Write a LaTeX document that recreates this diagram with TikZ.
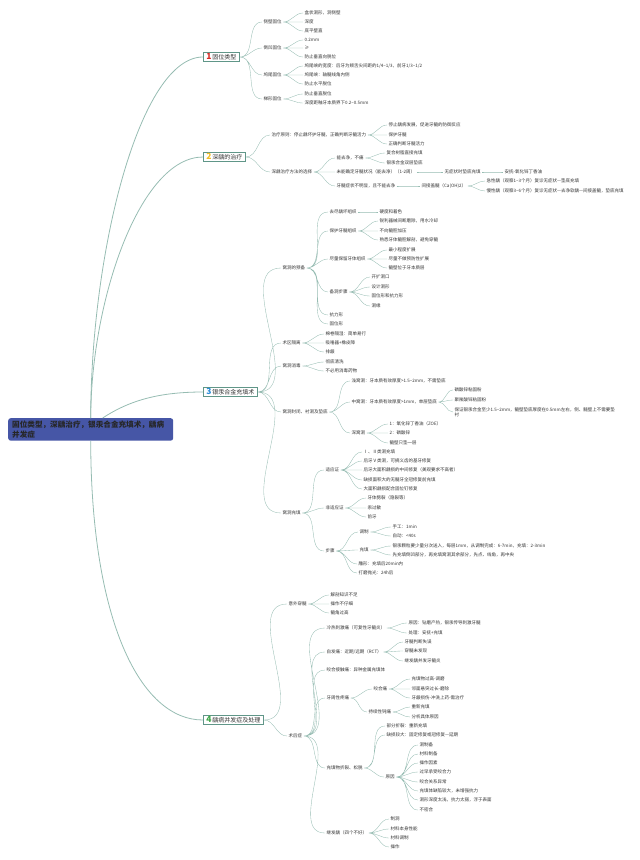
\documentclass[tikz,border=0pt]{standalone}
\usepackage{fontspec}
\setmainfont{Noto Sans CJK SC}
\definecolor{txtgray}{RGB}{51,51,51}
\definecolor{linkc}{RGB}{150,188,178}
\definecolor{boxline}{RGB}{96,150,136}
\definecolor{rootblue}{RGB}{70,86,166}
\definecolor{numred}{RGB}{214,45,40}
\definecolor{numyellow}{RGB}{242,190,40}
\definecolor{numblue}{RGB}{40,140,215}
\definecolor{numgreen}{RGB}{60,165,70}
\newcommand{\brnum}[2]{\textcolor{#1}{\fontsize{8.5}{8.5}\selectfont\bfseries #2}\,}
\begin{document}
\begin{tikzpicture}[x=1pt,y=-1pt,
    leaf/.style={anchor=west,inner sep=.6pt,outer sep=1pt,text=txtgray,font=\fontsize{4.5}{5.4}\selectfont},
    branch/.style={anchor=west,draw=boxline,fill=white,line width=.6pt,inner xsep=3pt,inner ysep=1.2pt,text=txtgray,font=\fontsize{6}{7}\selectfont},
    link/.style={draw=linkc,line width=.35pt,out=0,in=180},
    mainlink/.style={draw=linkc,line width=.8pt}]
    \useasboundingbox (0,0) rectangle (640,860);

    \node[anchor=north west,fill=rootblue,rounded corners=2.5pt,inner xsep=4pt,inner ysep=2.5pt,text width=157pt,align=left,
          font=\fontsize{7.6}{10}\selectfont\bfseries,text=black!85] (root) at (8,418) {固位类型，深龋治疗，银汞合金充填术，龋病\\并发症};

    \node[branch] (b1) at (203,57) {\brnum{numred}{1}固位类型};
    \node[leaf] (b1a) at (262,22) {侧壁固位};
    \node[leaf] (b1b) at (262,48) {倒凹固位};
    \node[leaf] (b1c) at (262,75) {鸠尾固位};
    \node[leaf] (b1d) at (262,99) {梯形固位};
    \node[leaf] (b1a1) at (303,13) {盒状洞形，洞侧壁};
    \node[leaf] (b1a2) at (303,22) {深度};
    \node[leaf] (b1a3) at (303,31) {底平壁直};
    \node[leaf] (b1b1) at (303,40) {0.2mm};
    \node[leaf] (b1b2) at (303,48) {≥};
    \node[leaf] (b1b3) at (303,57) {防止垂直向脱位};
    \node[leaf] (b1c1) at (303,66) {鸠尾峡的宽度：后牙为颊舌尖间距的1/4\textasciitilde 1/3，前牙1/3\textasciitilde 1/2};
    \node[leaf] (b1c2) at (303,75) {鸠尾峡：轴髓线角内侧};
    \node[leaf] (b1c3) at (303,84) {防止水平脱位};
    \node[leaf] (b1d1) at (303,94) {防止垂直脱位};
    \node[leaf] (b1d2) at (303,103) {深度距釉牙本质界下0.2\textasciitilde 0.5mm};

    \node[branch] (b2) at (203,157) {\brnum{numyellow}{2}深龋的治疗};
    \node[leaf] (b2a) at (270,135) {治疗原则：停止龋坏护牙髓，正确判断牙髓活力};
    \node[leaf] (b2a1) at (387,125) {停止龋病发展，促进牙髓的防御反应};
    \node[leaf] (b2a2) at (387,135) {保护牙髓};
    \node[leaf] (b2a3) at (387,144) {正确判断牙髓活力};
    \node[leaf] (b2b) at (270,172) {深龋治疗方法的选择};
    \node[leaf] (b2b1) at (335,158) {能去净，不痛};
    \node[leaf] (b2b1a) at (385,153) {复合树脂直接充填};
    \node[leaf] (b2b1b) at (385,163) {银汞合金双层垫底};
    \node[leaf] (b2b2) at (335,172) {未能确定牙髓状况（能去净）（1-2周）};
    \node[leaf] (b2b2a) at (443,172) {无症状时垫底充填};
    \node[leaf] (b2b2b) at (503,172) {安抚-氧化锌丁香油};
    \node[leaf] (b2b3) at (335,186) {牙髓症状不明显，且不能去净};
    \node[leaf] (b2b3a) at (420,186) {间接盖髓（Ca(OH)2）};
    \node[leaf] (b2b3a1) at (485,181) {急性龋（观察1\textasciitilde 3个月）复诊无症状—垫底充填};
    \node[leaf] (b2b3a2) at (485,191) {慢性龋（观察3\textasciitilde 6个月）复诊无症状—去净软龋—间接盖髓，垫底充填};

    \node[branch] (b3) at (203,392) {\brnum{numblue}{3}银汞合金充填术};
    \node[leaf] (b3a) at (281,268) {窝洞的预备};
    \node[leaf] (b3a1) at (328,212) {去尽龋坏组织};
    \node[leaf] (b3a1a) at (378,212) {硬度和着色};
    \node[leaf] (b3a2) at (328,231) {保护牙髓组织};
    \node[leaf] (b3a2a) at (378,221) {锐利器械间断磨除，用水冷却};
    \node[leaf] (b3a2b) at (378,231) {不向髓腔加压};
    \node[leaf] (b3a2c) at (378,240) {熟悉牙体髓腔解剖，避免穿髓};
    \node[leaf] (b3a3) at (328,259) {尽量保留牙体组织};
    \node[leaf] (b3a3a) at (387,250) {最小程度扩展};
    \node[leaf] (b3a3b) at (387,259) {尽量不做预防性扩展};
    \node[leaf] (b3a3c) at (387,268) {髓壁位于牙本质层};
    \node[leaf] (b3a4) at (328,292) {备洞步骤};
    \node[leaf] (b3a4a) at (370,277) {开扩洞口};
    \node[leaf] (b3a4b) at (370,287) {设计洞形};
    \node[leaf] (b3a4c) at (370,296) {固位形和抗力形};
    \node[leaf] (b3a4d) at (370,306) {洞缘};
    \node[leaf] (b3a5) at (328,315) {抗力形};
    \node[leaf] (b3a6) at (328,324) {固位形};
    \node[leaf] (b3b) at (281,343) {术区隔离};
    \node[leaf] (b3b1) at (324,334) {棉卷隔湿：简单易行};
    \node[leaf] (b3b2) at (324,343) {吸唾器+橡皮障};
    \node[leaf] (b3b3) at (324,352) {排龈};
    \node[leaf] (b3c) at (281,366) {窝洞消毒};
    \node[leaf] (b3c1) at (324,362) {彻底清洗};
    \node[leaf] (b3c2) at (324,371) {不必用消毒药物};
    \node[leaf] (b3d) at (281,412) {窝洞封闭、衬洞及垫底};
    \node[leaf] (b3d1) at (350,381) {浅窝洞：牙本质有效厚度>1.5\textasciitilde 2mm，不需垫底};
    \node[leaf] (b3d2) at (350,402) {中窝洞：牙本质有效厚度>1mm，单层垫底};
    \node[leaf] (b3d2a) at (453,390) {磷酸锌粘固粉};
    \node[leaf] (b3d2b) at (453,400) {聚羧酸锌粘固粉};
    \node[leaf,align=left] (b3d2c) at (453,412) {保证银汞合金至少1.5\textasciitilde 2mm，髓壁垫底厚度在0.5mm左右，侧、髓壁上不需要垫\\衬};
    \node[leaf] (b3d3) at (350,433) {深窝洞};
    \node[leaf] (b3d3a) at (388,424) {1：氧化锌丁香油（ZOE）};
    \node[leaf] (b3d3b) at (388,433) {2：磷酸锌};
    \node[leaf] (b3d3c) at (388,443) {髓壁只垫一层};
    \node[leaf] (b3e) at (281,513) {窝洞充填};
    \node[leaf] (b3e1) at (324,470) {适应证};
    \node[leaf] (b3e1a) at (362,452) {Ⅰ、Ⅱ类洞充填};
    \node[leaf] (b3e1b) at (362,461) {后牙Ⅴ类洞，可摘义齿的基牙修复};
    \node[leaf] (b3e1c) at (362,470) {后牙大面积龋损的中间修复（美观要求不高者）};
    \node[leaf] (b3e1d) at (362,480) {缺损面积大的无髓牙全冠修复前充填};
    \node[leaf] (b3e1e) at (362,489) {大面积龋损配合固位钉修复};
    \node[leaf] (b3e2) at (324,508) {非适应证};
    \node[leaf] (b3e2a) at (366,498) {牙体劈裂（隐裂等）};
    \node[leaf] (b3e2b) at (366,508) {汞过敏};
    \node[leaf] (b3e2c) at (366,517) {前牙};
    \node[leaf] (b3e3) at (324,551) {步骤};
    \node[leaf] (b3e3a) at (358,532) {调制};
    \node[leaf] (b3e3a1) at (391,527) {手工：1min};
    \node[leaf] (b3e3a2) at (391,536) {自动：<40s};
    \node[leaf] (b3e3b) at (358,550) {充填};
    \node[leaf] (b3e3b1) at (391,546) {银汞颗粒要少量分次送入，每层1mm，从调制完成：6-7min，充填：2-3min};
    \node[leaf] (b3e3b2) at (391,555) {先充填倒凹部分，再充填窝洞其余部分，先点、线角，再中央};
    \node[leaf] (b3e3c) at (357,564) {雕形：充填后20min内};
    \node[leaf] (b3e3d) at (357,573) {打磨抛光：24h后};

    \node[branch] (b4) at (203,720) {\brnum{numgreen}{4}龋病并发症及处理};
    \node[leaf] (b4a) at (287,604) {意外穿髓};
    \node[leaf] (b4a1) at (329,595) {解剖知识不足};
    \node[leaf] (b4a2) at (329,604) {操作不仔细};
    \node[leaf] (b4a3) at (329,613) {髓角过高};
    \node[leaf] (b4b) at (287,736) {术后症};
    \node[leaf] (b4b1) at (325,628) {冷热刺激痛（可复性牙髓炎）};
    \node[leaf] (b4b1a) at (407,623) {原因：钻磨产热，银汞传导刺激牙髓};
    \node[leaf] (b4b1b) at (407,633) {处理：安抚+充填};
    \node[leaf] (b4b2) at (325,652) {自发痛：近期/远期（RCT）};
    \node[leaf] (b4b2a) at (403,642) {牙髓判断失误};
    \node[leaf] (b4b2b) at (403,651) {穿髓未发现};
    \node[leaf] (b4b2c) at (403,661) {继发龋并发牙髓炎};
    \node[leaf] (b4b3) at (325,670) {咬合接触痛：异种金属充填体};
    \node[leaf] (b4b4) at (325,698) {牙周性疼痛};
    \node[leaf] (b4b4a) at (372,689) {咬合痛};
    \node[leaf] (b4b4a1) at (410,679) {充填物过高-调磨};
    \node[leaf] (b4b4a2) at (410,689) {邻面悬突过长-磨除};
    \node[leaf] (b4b4a3) at (410,698) {牙龈损伤-冲洗上药-需治疗};
    \node[leaf] (b4b4b) at (367,712) {持续性钝痛};
    \node[leaf] (b4b4b1) at (410,707) {重新充填};
    \node[leaf] (b4b4b2) at (410,717) {分析具体原因};
    \node[leaf] (b4b5) at (325,768) {充填物折裂、松脱};
    \node[leaf] (b4b5a) at (385,726) {部分折裂：重新充填};
    \node[leaf] (b4b5b) at (385,735) {缺损较大：固定修复或冠修复—延期};
    \node[leaf] (b4b5c) at (384,777) {原因};
    \node[leaf] (b4b5c1) at (418,745) {洞制备};
    \node[leaf] (b4b5c2) at (418,754) {材料制备};
    \node[leaf] (b4b5c3) at (418,763) {操作因素};
    \node[leaf] (b4b5c4) at (418,772) {过早承受咬合力};
    \node[leaf] (b4b5c5) at (418,782) {咬合关系异常};
    \node[leaf] (b4b5c6) at (418,791) {充填体缺陷较大，未增强抗力};
    \node[leaf] (b4b5c7) at (418,800) {洞形深度太浅，抗力太弱，浮于表面};
    \node[leaf] (b4b5c8) at (418,810) {不密合};
    \node[leaf] (b4b6) at (325,833) {继发龋（四个不好）};
    \node[leaf] (b4b6a) at (389,819) {制洞};
    \node[leaf] (b4b6b) at (389,829) {材料本身性能};
    \node[leaf] (b4b6c) at (389,838) {材料调制};
    \node[leaf] (b4b6d) at (389,847) {操作};

    \draw[mainlink] (root.north) .. controls (91,250) and (140,57) .. (b1.west);
    \draw[mainlink] (root.north) .. controls (91,300) and (140,157) .. (b2.west);
    \draw[mainlink] ([xshift=12pt]root.north) .. controls (130,400) and (160,392) .. (b3.west);
    \draw[mainlink] (root.south) .. controls (91,620) and (140,720) .. (b4.west);

    \draw[link] (b1.east) to (b1a.west) (b1.east) to (b1b.west) (b1.east) to (b1c.west) (b1.east) to (b1d.west);
    \draw[link] (b1a.east) to (b1a1.west) (b1a.east) to (b1a2.west) (b1a.east) to (b1a3.west);
    \draw[link] (b1b.east) to (b1b1.west) (b1b.east) to (b1b2.west) (b1b.east) to (b1b3.west);
    \draw[link] (b1c.east) to (b1c1.west) (b1c.east) to (b1c2.west) (b1c.east) to (b1c3.west);
    \draw[link] (b1d.east) to (b1d1.west) (b1d.east) to (b1d2.west);

    \draw[link] (b2.east) to (b2a.west) (b2.east) to (b2b.west);
    \draw[link] (b2a.east) to (b2a1.west) (b2a.east) to (b2a2.west) (b2a.east) to (b2a3.west);
    \draw[link] (b2b.east) to (b2b1.west) (b2b.east) to (b2b2.west) (b2b.east) to (b2b3.west);
    \draw[link] (b2b1.east) to (b2b1a.west) (b2b1.east) to (b2b1b.west);
    \draw[link] (b2b2.east) to (b2b2a.west) (b2b2a.east) to (b2b2b.west);
    \draw[link] (b2b3.east) to (b2b3a.west);
    \draw[link] (b2b3a.east) to (b2b3a1.west) (b2b3a.east) to (b2b3a2.west);

    \draw[link] (b3.east) to (b3a.west) (b3.east) to (b3b.west) (b3.east) to (b3c.west) (b3.east) to (b3d.west) (b3.east) to (b3e.west);
    \draw[link] (b3a.east) to (b3a1.west) (b3a.east) to (b3a2.west) (b3a.east) to (b3a3.west) (b3a.east) to (b3a4.west) (b3a.east) to (b3a5.west) (b3a.east) to (b3a6.west);
    \draw[link] (b3a1.east) to (b3a1a.west);
    \draw[link] (b3a2.east) to (b3a2a.west) (b3a2.east) to (b3a2b.west) (b3a2.east) to (b3a2c.west);
    \draw[link] (b3a3.east) to (b3a3a.west) (b3a3.east) to (b3a3b.west) (b3a3.east) to (b3a3c.west);
    \draw[link] (b3a4.east) to (b3a4a.west) (b3a4.east) to (b3a4b.west) (b3a4.east) to (b3a4c.west) (b3a4.east) to (b3a4d.west);
    \draw[link] (b3b.east) to (b3b1.west) (b3b.east) to (b3b2.west) (b3b.east) to (b3b3.west);
    \draw[link] (b3c.east) to (b3c1.west) (b3c.east) to (b3c2.west);
    \draw[link] (b3d.east) to (b3d1.west) (b3d.east) to (b3d2.west) (b3d.east) to (b3d3.west);
    \draw[link] (b3d2.east) to (b3d2a.west) (b3d2.east) to (b3d2b.west) (b3d2.east) to (b3d2c.west);
    \draw[link] (b3d3.east) to (b3d3a.west) (b3d3.east) to (b3d3b.west) (b3d3.east) to (b3d3c.west);
    \draw[link] (b3e.east) to (b3e1.west) (b3e.east) to (b3e2.west) (b3e.east) to (b3e3.west);
    \draw[link] (b3e1.east) to (b3e1a.west) (b3e1.east) to (b3e1b.west) (b3e1.east) to (b3e1c.west) (b3e1.east) to (b3e1d.west) (b3e1.east) to (b3e1e.west);
    \draw[link] (b3e2.east) to (b3e2a.west) (b3e2.east) to (b3e2b.west) (b3e2.east) to (b3e2c.west);
    \draw[link] (b3e3.east) to (b3e3a.west) (b3e3.east) to (b3e3b.west) (b3e3.east) to (b3e3c.west) (b3e3.east) to (b3e3d.west);
    \draw[link] (b3e3a.east) to (b3e3a1.west) (b3e3a.east) to (b3e3a2.west);
    \draw[link] (b3e3b.east) to (b3e3b1.west) (b3e3b.east) to (b3e3b2.west);

    \draw[link] (b4.east) to (b4a.west) (b4.east) to (b4b.west);
    \draw[link] (b4a.east) to (b4a1.west) (b4a.east) to (b4a2.west) (b4a.east) to (b4a3.west);
    \draw[link] (b4b.east) to (b4b1.west) (b4b.east) to (b4b2.west) (b4b.east) to (b4b3.west) (b4b.east) to (b4b4.west) (b4b.east) to (b4b5.west) (b4b.east) to (b4b6.west);
    \draw[link] (b4b1.east) to (b4b1a.west) (b4b1.east) to (b4b1b.west);
    \draw[link] (b4b2.east) to (b4b2a.west) (b4b2.east) to (b4b2b.west) (b4b2.east) to (b4b2c.west);
    \draw[link] (b4b4.east) to (b4b4a.west) (b4b4.east) to (b4b4b.west);
    \draw[link] (b4b4a.east) to (b4b4a1.west) (b4b4a.east) to (b4b4a2.west) (b4b4a.east) to (b4b4a3.west);
    \draw[link] (b4b4b.east) to (b4b4b1.west) (b4b4b.east) to (b4b4b2.west);
    \draw[link] (b4b5.east) to (b4b5a.west) (b4b5.east) to (b4b5b.west) (b4b5.east) to (b4b5c.west);
    \draw[link] (b4b5c.east) to (b4b5c1.west) (b4b5c.east) to (b4b5c2.west) (b4b5c.east) to (b4b5c3.west) (b4b5c.east) to (b4b5c4.west) (b4b5c.east) to (b4b5c5.west) (b4b5c.east) to (b4b5c6.west) (b4b5c.east) to (b4b5c7.west) (b4b5c.east) to (b4b5c8.west);
    \draw[link] (b4b6.east) to (b4b6a.west) (b4b6.east) to (b4b6b.west) (b4b6.east) to (b4b6c.west) (b4b6.east) to (b4b6d.west);
\end{tikzpicture}
\end{document}
